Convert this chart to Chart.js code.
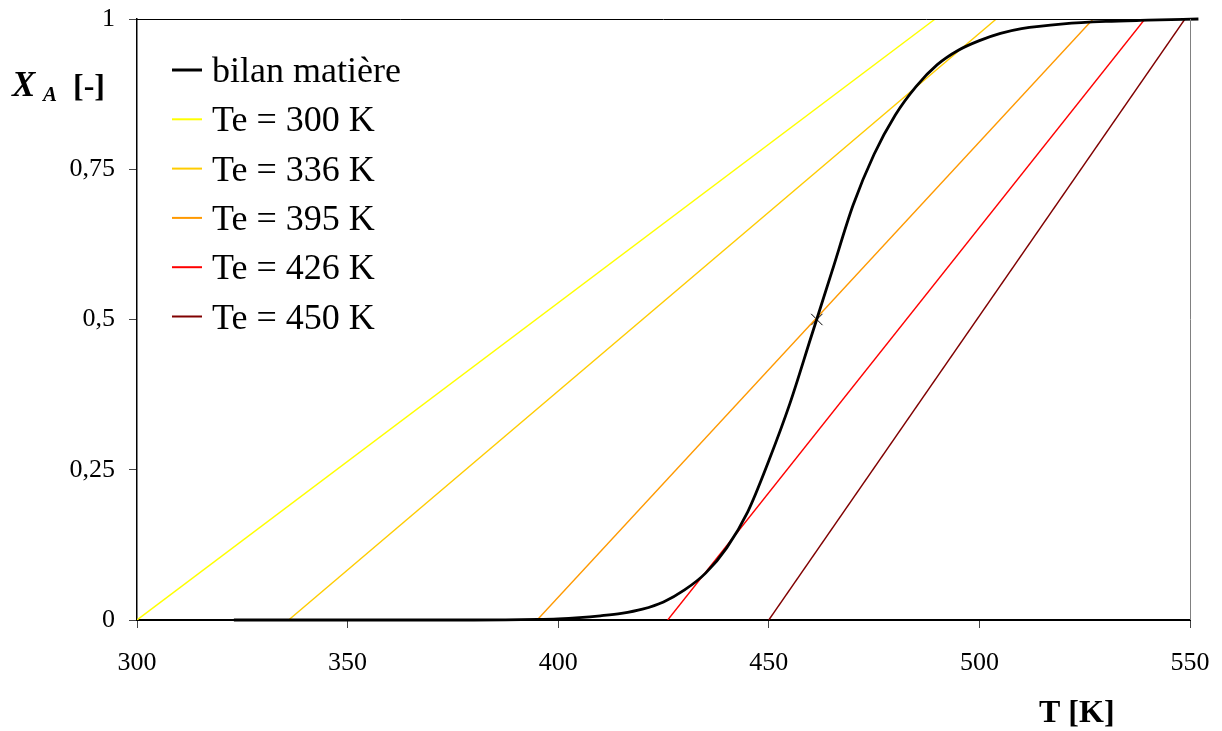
<!DOCTYPE html>
<html>
<head>
<meta charset="utf-8">
<script src="https://cdn.jsdelivr.net/npm/chart.js@4.4.0/dist/chart.umd.min.js"></script>
<style>
  html, body { margin: 0; padding: 0; background: #fff; }
  #wrap { width: 1222px; height: 731px; }
</style>
</head>
<body>
<div id="wrap"><canvas id="chart" width="1222" height="731"></canvas></div>
<script>
// bilan matière curve
const tBilan = [323, 350, 380, 395, 400, 405, 410, 415, 420, 425, 430, 435, 440, 445, 450, 455, 460, 465, 470, 475, 480, 485, 490, 495, 500, 505, 510, 520, 530, 540, 552];
const xBilan = [0, 0, 0, 0.001, 0.002, 0.004, 0.007, 0.011, 0.018, 0.03, 0.05, 0.078, 0.12, 0.18, 0.265, 0.36, 0.47, 0.58, 0.69, 0.775, 0.84, 0.888, 0.924, 0.948, 0.964, 0.976, 0.984, 0.992, 0.996, 0.998, 1.0];

// energy balance lines: start at (Te, 0), end where X_A = 1
const teLabels = ['Te = 300 K', 'Te = 336 K', 'Te = 395 K', 'Te = 426 K', 'Te = 450 K'];
const teStart = [300, 336, 395, 426, 450];
const teEnd = [489.5, 504, 527, 539.3, 548.8];
const teColors = ['#ffff00', '#ffcc00', '#ff9900', '#ff0000', '#800000'];

// operating point (cross)
const opT = [461.4];
const opX = [0.5];

// axes
const xTickValues = [300, 350, 400, 450, 500, 550];
const yTickLabels = ['0', '0,25', '0,5', '0,75', '1'];

const serif = '"Liberation Serif", "Times New Roman", serif';

const datasets = [];
datasets.push({
    label: 'bilan matière',
    data: tBilan.map((t, i) => ({ x: t, y: xBilan[i] })),
    borderColor: '#000',
    borderWidth: 2.8,
    pointRadius: 0,
    cubicInterpolationMode: 'monotone',
    clip: false,
    inLegend: true,
    legendWidth: 3
});
teLabels.forEach((lab, i) => {
    datasets.push({
        label: lab,
        data: [{ x: teStart[i], y: 0 }, { x: teEnd[i], y: 1 }],
        borderColor: teColors[i],
        borderWidth: 1.4,
        pointRadius: 0,
        inLegend: true,
        legendWidth: 2
    });
});
datasets.push({
    label: 'point',
    data: opT.map((t, i) => ({ x: t, y: opX[i] })),
    showLine: false,
    pointStyle: 'crossRot',
    pointRadius: 8,
    borderColor: '#000',
    borderWidth: 1,
    inLegend: false
});

// frame, legend and axis titles
const decorations = {
    id: 'decorations',
    afterDraw(chart) {
        const ctx = chart.ctx;
        const a = chart.chartArea;
        ctx.save();
        // top and right border
        ctx.lineWidth = 1;
        ctx.strokeStyle = '#000';
        ctx.beginPath();
        ctx.moveTo(a.left, a.top + 0.5);
        ctx.lineTo(a.right, a.top + 0.5);
        ctx.stroke();
        ctx.strokeStyle = '#808080';
        ctx.beginPath();
        ctx.moveTo(a.right + 0.5, a.top);
        ctx.lineTo(a.right + 0.5, a.bottom);
        ctx.stroke();

        // legend inside the plot
        ctx.font = '36px ' + serif;
        ctx.textAlign = 'left';
        ctx.textBaseline = 'alphabetic';
        let row = 0;
        chart.data.datasets.forEach(ds => {
            if (!ds.inLegend) return;
            const y = a.top + 51 + row * 49.3;
            ctx.strokeStyle = ds.borderColor;
            ctx.lineWidth = ds.legendWidth;
            ctx.beginPath();
            ctx.moveTo(a.left + 35, y);
            ctx.lineTo(a.left + 65, y);
            ctx.stroke();
            ctx.fillStyle = '#000';
            ctx.fillText(ds.label, a.left + 75, y + 12);
            row++;
        });

        // y axis title  X_A [-]
        ctx.fillStyle = '#000';
        ctx.font = 'italic bold 35px ' + serif;
        ctx.fillText('X', 12, 96);
        ctx.font = 'italic bold 21px ' + serif;
        ctx.fillText('A', 43, 101);
        ctx.font = 'bold 32px ' + serif;
        ctx.fillText('[-]', 73, 96);

        // x axis title
        ctx.font = 'bold 32px ' + serif;
        ctx.fillText('T [K]', 1039, 722);
        ctx.restore();
    }
};

new Chart(document.getElementById('chart'), {
    type: 'line',
    data: { datasets: datasets },
    options: {
        responsive: false,
        animation: false,
        layout: { padding: { top: 19, right: 32, left: 0, bottom: 0 } },
        plugins: {
            legend: { display: false },
            tooltip: { enabled: false }
        },
        scales: {
            x: {
                type: 'linear',
                min: 300,
                max: 550,
                afterBuildTicks: scale => { scale.ticks = xTickValues.map(v => ({ value: v })); },
                afterFit: scale => {
                    scale.height = 111;
                    scale.paddingLeft = 0;
                    scale.paddingRight = 0;
                },
                grid: { drawOnChartArea: false, tickLength: 8, color: '#444', lineWidth: 1 },
                border: { color: '#000', width: 2 },
                ticks: {
                    padding: 20,
                    color: '#000',
                    maxRotation: 0,
                    font: { family: serif, size: 26 }
                }
            },
            y: {
                type: 'linear',
                min: 0,
                max: 1,
                afterBuildTicks: scale => { scale.ticks = yTickLabels.map((l, i) => ({ value: i * 0.25 })); },
                afterFit: scale => {
                    scale.width = 137;
                    scale.paddingTop = 0;
                    scale.paddingBottom = 0;
                },
                grid: { drawOnChartArea: false, tickLength: 8, color: '#444', lineWidth: 1 },
                border: { color: '#000', width: 1.5 },
                ticks: {
                    padding: 14,
                    color: '#000',
                    font: { family: serif, size: 26 },
                    callback: (v, i) => yTickLabels[i]
                }
            }
        }
    },
    plugins: [decorations]
});
</script>
</body>
</html>
